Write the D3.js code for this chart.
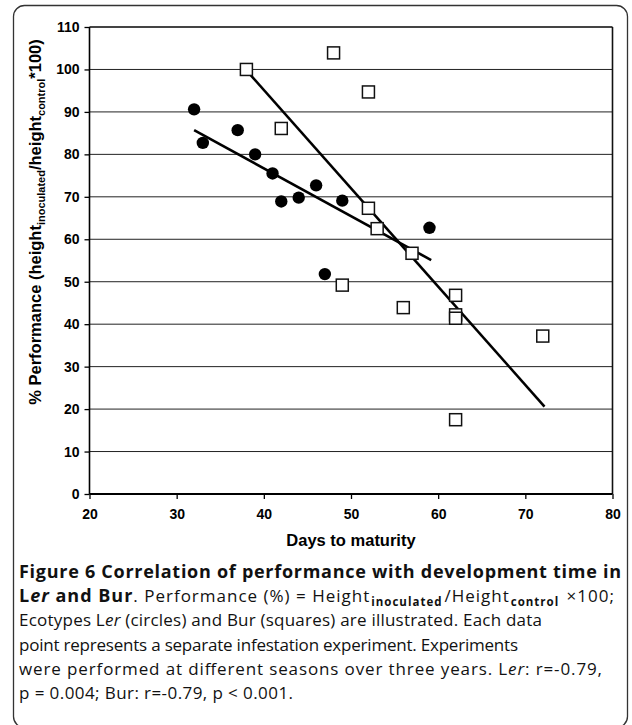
<!DOCTYPE html>
<html>
<head>
<meta charset="utf-8">
<script src="https://cdn.jsdelivr.net/npm/d3@7"></script>
<style>
	body { margin: 0; background: #fff; }
	.tick text { font-family: "Liberation Sans Narrow", "Arial Narrow", "Liberation Sans", Arial, sans-serif; font-weight: bold; font-size: 14px; fill: #000; }
	.axis-title { font-family: "Liberation Sans", Arial, sans-serif; font-weight: bold; font-size: 16.5px; }
	.caption { font-family: "Open Sans", "Noto Sans", sans-serif; font-size: 17px; fill: #111; }
</style>
</head>
<body>
<div id="chart-area"></div>
<script>

// Ler (circles)
var lerDays = [32, 33, 37, 39, 41, 42, 44, 46, 47, 49, 59];
var lerPerf = [90.6, 82.7, 85.7, 80.0, 75.5, 68.9, 69.8, 72.7, 51.8, 69.1, 62.7];

// Bur (squares)
var burDays = [38, 42, 48, 49, 52, 52, 53, 56, 57, 62, 62, 62, 62, 72];
var burPerf = [100.0, 86.1, 103.9, 49.2, 94.7, 67.3, 62.5, 43.9, 56.7, 46.8, 42.2, 41.4, 17.5, 37.2];

// regression lines, end points
var lerFitDays = [32, 59.2];
var lerFitPerf = [85.7, 55.1];
var burFitDays = [38, 72.2];
var burFitPerf = [99.8, 20.6];

var xTicks = [20, 30, 40, 50, 60, 70, 80];
var yTicks = [0, 10, 20, 30, 40, 50, 60, 70, 80, 90, 100, 110];

// margin convention
var margin = {top: 27, right: 19.5, bottom: 231, left: 89.5};
var width = 632 - margin.left - margin.right;
var height = 725 - margin.top - margin.bottom;

var root = d3.select("#chart-area")
	.append("svg")
	.attr("width", 632)
	.attr("height", 725);

// outer frame
root.append("rect")
	.attr("x", 13.5)
	.attr("y", 5.5)
	.attr("width", 614)
	.attr("height", 722)
	.attr("rx", 11)
	.attr("fill", "none")
	.attr("stroke", "#333")
	.attr("stroke-width", 1.3);

var svg = root.append("g")
	.attr("transform", "translate(" + margin.left + "," + margin.top + ")");

var x = d3.scaleLinear().domain([20, 80]).range([0, width]);
var y = d3.scaleLinear().domain([0, 110]).range([height, 0]);

/** gridlines */
svg.selectAll("line.grid")
	.data(yTicks.filter(function(d) { return d > 0 && d < 110; }))
	.enter()
	.append("line")
	.attr("class", "grid")
	.attr("x1", 0)
	.attr("x2", width)
	.attr("y1", function(d) { return y(d); })
	.attr("y2", function(d) { return y(d); })
	.attr("stroke", "#222")
	.attr("stroke-width", 1);

// plot frame top / right
svg.append("line")
	.attr("x1", 0).attr("x2", width)
	.attr("y1", y(110)).attr("y2", y(110))
	.attr("stroke", "#444").attr("stroke-width", 2);
svg.append("line")
	.attr("x1", width).attr("x2", width)
	.attr("y1", y(110)).attr("y2", y(0))
	.attr("stroke", "#111").attr("stroke-width", 1.6);

/** Axes */
var xAxis = d3.axisBottom(x).tickValues(xTicks).tickSize(5).tickPadding(10);
var gx = svg.append("g")
	.attr("class", "axis xAxis")
	.attr("transform", "translate(0," + height + ")")
	.call(xAxis);
gx.select(".domain").attr("stroke-width", 2).attr("d", "M0,0H" + width);
gx.selectAll(".tick line").attr("stroke-width", 1.3);

var yAxis = d3.axisLeft(y).tickValues(yTicks).tickSize(5).tickPadding(5);
var gy = svg.append("g")
	.attr("class", "axis yAxis")
	.call(yAxis);
gy.select(".domain").attr("stroke-width", 1.6).attr("d", "M0," + height + "V0");
gy.selectAll(".tick line").attr("stroke-width", 1.3);

/** Regression lines */
function fitLine(xs, ys) {
	return xs.map(function(d, i) { return [x(d), y(ys[i])]; });
}
var line = d3.line();
[fitLine(lerFitDays, lerFitPerf), fitLine(burFitDays, burFitPerf)].forEach(function(pts) {
	svg.append("path")
		.attr("d", line(pts))
		.attr("fill", "none")
		.attr("stroke", "#000")
		.attr("stroke-width", 2.6);
});

/** Squares (Bur) */
var sq = 12;
svg.selectAll("rect.bur")
	.data(burDays)
	.enter()
	.append("rect")
	.attr("class", "bur")
	.attr("x", function(d) { return x(d) - sq / 2; })
	.attr("y", function(d, i) { return y(burPerf[i]) - sq / 2; })
	.attr("width", sq)
	.attr("height", sq)
	.attr("fill", "#fff")
	.attr("stroke", "#111")
	.attr("stroke-width", 1.5);

/** Circles (Ler) */
svg.selectAll("circle.ler")
	.data(lerDays)
	.enter()
	.append("circle")
	.attr("class", "ler")
	.attr("cx", function(d) { return x(d); })
	.attr("cy", function(d, i) { return y(lerPerf[i]); })
	.attr("r", 6.2)
	.attr("fill", "#000");

/** Axis titles */
svg.append("text")
	.attr("class", "axis-title")
	.attr("x", width / 2)
	.attr("y", height + 52)
	.attr("text-anchor", "middle")
	.text("Days to maturity");

var yt = root.append("text")
	.attr("class", "axis-title")
	.attr("text-anchor", "middle")
	.attr("transform", "translate(41, 222) rotate(-90)");
yt.append("tspan").text("% Performance (height");
yt.append("tspan").attr("font-size", "11px").attr("dy", 4).text("inoculated");
yt.append("tspan").attr("dy", -4).text("/height");
yt.append("tspan").attr("font-size", "11px").attr("dy", 4).text("control");
yt.append("tspan").attr("dy", -4).text("*100)");

/** Caption */
var captionLines = [
	[["Figure 6 Correlation of performance with development time in", "b"]],
	[["L", "b"], ["er", "bi"], [" and Bur", "b"], [". Performance (%) = Height", ""], ["inoculated", "sub"], ["/Height", ""], ["control", "sub"], [" \u00d7100;", ""]],
	[["Ecotypes L", ""], ["er", "i"], [" (circles) and Bur (squares) are illustrated. Each data", ""]],
	[["point represents a separate infestation experiment. Experiments", ""]],
	[["were performed at different seasons over three years. L", ""], ["er", "i"], [": r=-0.79,", ""]],
	[["p = 0.004; Bur: r=-0.79, p < 0.001.", ""]]
];
// right end of each caption line in the figure
var captionEnds = [621, 614, 542, 518, 602, 293];

captionLines.forEach(function(segs, li) {
	var t = root.append("text")
		.attr("class", "caption")
		.attr("x", 19)
		.attr("y", 578 + li * 24.2)
		.attr("textLength", captionEnds[li] - 19)
		.attr("lengthAdjust", "spacing");
	var shifted = false;
	segs.forEach(function(s) {
		var bold = s[1].indexOf("b") >= 0;
		var ts = t.append("tspan").text(s[0])
			.attr("font-weight", bold ? "bold" : "normal")
			.attr("font-style", s[1].indexOf("i") >= 0 ? "italic" : "normal");
		if (bold) ts.attr("font-size", "18px");
		if (s[1] === "sub") {
			ts.attr("font-size", "11.5px").attr("dy", 4).attr("dx", 1);
			shifted = true;
		} else if (shifted) {
			ts.attr("dy", -4).attr("dx", 2);
			shifted = false;
		}
	});
});

</script>
</body>
</html>
